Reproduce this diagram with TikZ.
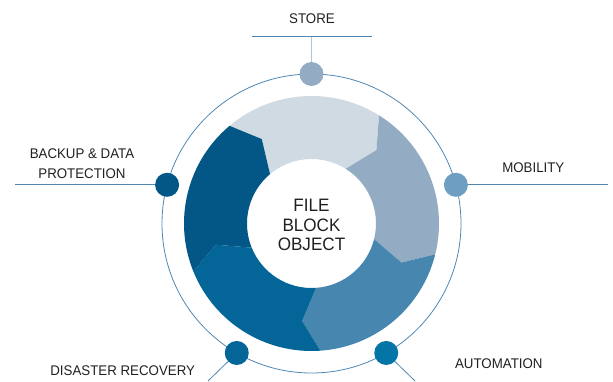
\documentclass[tikz,border=0pt]{standalone}
\usepackage{fontspec}
\setmainfont{Liberation Sans}[FakeStretch=0.95]
\usepackage{tikz}
\usepackage{xcolor}

\definecolor{segA}{HTML}{D0DAE2}
\definecolor{segB}{HTML}{93ABC3}
\definecolor{segC}{HTML}{4787AF}
\definecolor{segD}{HTML}{036598}
\definecolor{segE}{HTML}{035787}
\definecolor{dotB}{HTML}{6E9EC1}
\definecolor{dotC}{HTML}{0574A6}
\definecolor{ringcol}{HTML}{4F87B3}
\definecolor{txt}{HTML}{231F20}

\tikzset{
  dot/.style={circle,minimum size=24pt,inner sep=0pt},
  lead/.style={draw=ringcol,line width=0.8pt},
  lbl/.style={text=txt,font=\fontsize{14}{19.3}\selectfont,align=center,inner sep=0pt}
}

\begin{document}
\begin{tikzpicture}[x=1pt,y=1pt]
\useasboundingbox (0,0) rectangle (613,381);

\begin{scope}[shift={(311.5,157.5)}]
% the five arrow pieces of the wheel, going round clockwise
\fill[segA] (130:127.5) arc (130:58:127.5) -- (48.5:98) -- (58:64.5) arc (58:130:64.5) -- (120.5:98) -- cycle;
\fill[segB] (58:127.5) arc (58:-14:127.5) -- (-23.5:98) -- (-14:64.5) arc (-14:58:64.5) -- (48.5:98) -- cycle;
\fill[segC] (-14:127.5) arc (-14:-86:127.5) -- (-95.5:98) -- (-86:64.5) arc (-86:-14:64.5) -- (-23.5:98) -- cycle;
\fill[segD] (-86:127.5) arc (-86:-158:127.5) -- (-167.5:98) -- (-158:64.5) arc (-158:-86:64.5) -- (-95.5:98) -- cycle;
\fill[segE] (-158:127.5) arc (-158:-230:127.5) -- (-239.5:98) -- (-230:64.5) arc (-230:-158:64.5) -- (-167.5:98) -- cycle;
% outer ring
\draw[ringcol,line width=0.8pt] (0,0) circle (149.5);
\node[dot,fill=segB] (1) at (90:149.5) {};
\node[dot,fill=segE] (2) at (165:149.5) {};
\node[dot,fill=dotB] (3) at (15:149.5) {};
\node[dot,fill=segD] (4) at (240:149.5) {};
\node[dot,fill=dotC] (5) at (300:149.5) {};
\end{scope}

\coordinate (a) at (311.5,345);
\coordinate (b) at (251.7,345);
\coordinate (c) at (371.7,345);
\coordinate (l) at (15,195);
\coordinate (r) at (608,195);
\coordinate (dl) at (208,0);
\coordinate (dr) at (415,0);

\draw[draw=segB!70,line width=1.4pt] (1) -- (a);
\draw[lead] (b) -- (c);
\draw[lead] (2) -- (2 -| l);
\draw[lead] (3) -- (3 -| r);
\draw[lead] (4) -- (dl);
\draw[lead] (5) -- (dr);

\node[lbl] (6) at (312,362.7) {STORE};
\node[lbl] (7) at (82,217.4) {BACKUP \& DATA\\PROTECTION};
\node[lbl] (8) at (533.3,213.3) {MOBILITY};
\node[lbl] (9) at (122.7,10.3) {DISASTER RECOVERY};
\node[lbl] (10) at (498.8,17.7) {AUTOMATION};
\node[lbl,font=\fontsize{18}{19.7}\selectfont] (11) at (311.5,156) {FILE\\BLOCK\\OBJECT};
\end{tikzpicture}
\end{document}
